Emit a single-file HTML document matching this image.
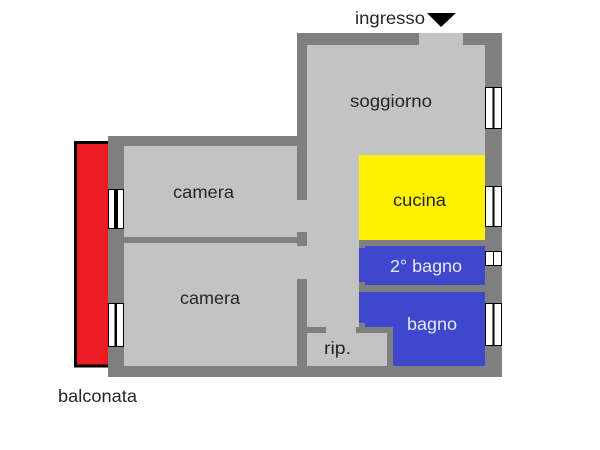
<!DOCTYPE html>
<html>
<head>
<meta charset="utf-8">
<style>
html,body{margin:0;padding:0;background:#fff}
svg{display:block}
text{font-family:"Liberation Sans",sans-serif;font-size:17.5px}
</style>
</head>
<body>
<svg width="600" height="450" viewBox="0 0 600 450" xmlns="http://www.w3.org/2000/svg">
<!-- walls base -->
<rect x="297" y="33" width="205" height="344" fill="#7f7f7f"/>
<rect x="108" y="136" width="200" height="241" fill="#7f7f7f"/>
<!-- floors -->
<rect x="307" y="45" width="178" height="321" fill="#c3c3c3"/>
<rect x="419" y="33" width="44" height="13" fill="#c3c3c3"/>
<rect x="124" y="146" width="173" height="91" fill="#c3c3c3"/>
<rect x="124" y="243" width="173" height="123" fill="#c3c3c3"/>
<rect x="297" y="200" width="10" height="32" fill="#c3c3c3"/>
<rect x="297" y="246" width="10" height="33" fill="#c3c3c3"/>
<rect x="290" y="237" width="7" height="6" fill="#7f7f7f"/>
<!-- yellow -->
<rect x="359" y="155" width="126" height="85" fill="#fff200"/>
<!-- inner walls right block -->
<rect x="359" y="240" width="126" height="126" fill="#7f7f7f"/>
<!-- blue rooms -->
<path d="M359 248H365V246H485V285H365V282H359Z" fill="#3f48cc"/>
<path d="M359 292H485V366H393V328H365V323H359Z" fill="#3f48cc"/>
<!-- rip. -->
<rect x="359" y="333" width="28" height="33" fill="#c3c3c3"/>
<rect x="307" y="327" width="19" height="6" fill="#7f7f7f"/>
<rect x="356" y="327" width="31" height="6" fill="#7f7f7f"/>
<rect x="387" y="327" width="6" height="39" fill="#7f7f7f"/>
<!-- balcony -->
<path d="M108 142.500H75.500V366H108" fill="#ed1c24" stroke="#000" stroke-width="3"/>
<!-- windows -->
<g fill="#fff" stroke="#000" stroke-width="1">
<rect x="108.500" y="189.500" width="7.500" height="39"/>
<rect x="116" y="189.500" width="7.500" height="39"/>
<rect x="108.500" y="303.500" width="7.500" height="43"/>
<rect x="116" y="303.500" width="7.500" height="43"/>
<rect x="485.500" y="87.500" width="8" height="41"/>
<rect x="493.500" y="87.500" width="8" height="41"/>
<rect x="485.500" y="186.500" width="8" height="40"/>
<rect x="493.500" y="186.500" width="8" height="40"/>
<rect x="485.500" y="251.500" width="8" height="14"/>
<rect x="493.500" y="251.500" width="8" height="14"/>
<rect x="485.500" y="303.500" width="8" height="42"/>
<rect x="493.500" y="303.500" width="8" height="42"/>
</g>
<rect x="114" y="189" width="4" height="40" fill="#000"/>
<rect x="114.500" y="303" width="2.500" height="44" fill="#000"/>
<rect x="492.500" y="87" width="2" height="42" fill="#000"/>
<rect x="492.500" y="186" width="2" height="41" fill="#000"/>
<rect x="492.500" y="303" width="2" height="43" fill="#000"/>
<!-- entrance arrow -->
<polygon points="427,13 456,13 441,27" fill="#000"/>
<!-- labels -->
<g fill="#262626">
<text x="355" y="24" textLength="70" lengthAdjust="spacingAndGlyphs">ingresso</text>
<text x="350" y="107" textLength="82" lengthAdjust="spacingAndGlyphs">soggiorno</text>
<text x="173" y="198" textLength="61" lengthAdjust="spacingAndGlyphs">camera</text>
<text x="180" y="304" textLength="60" lengthAdjust="spacingAndGlyphs">camera</text>
<text x="393" y="206" textLength="53" lengthAdjust="spacingAndGlyphs">cucina</text>
<text x="324" y="354" textLength="27" lengthAdjust="spacingAndGlyphs">rip.</text>
<text x="58" y="402" textLength="79" lengthAdjust="spacingAndGlyphs">balconata</text>
</g>
<text x="390" y="272" fill="#e6e8fa" textLength="72" lengthAdjust="spacingAndGlyphs">2° bagno</text>
<text x="407" y="330" fill="#e6e8fa" textLength="50" lengthAdjust="spacingAndGlyphs">bagno</text>
</svg>
</body>
</html>
